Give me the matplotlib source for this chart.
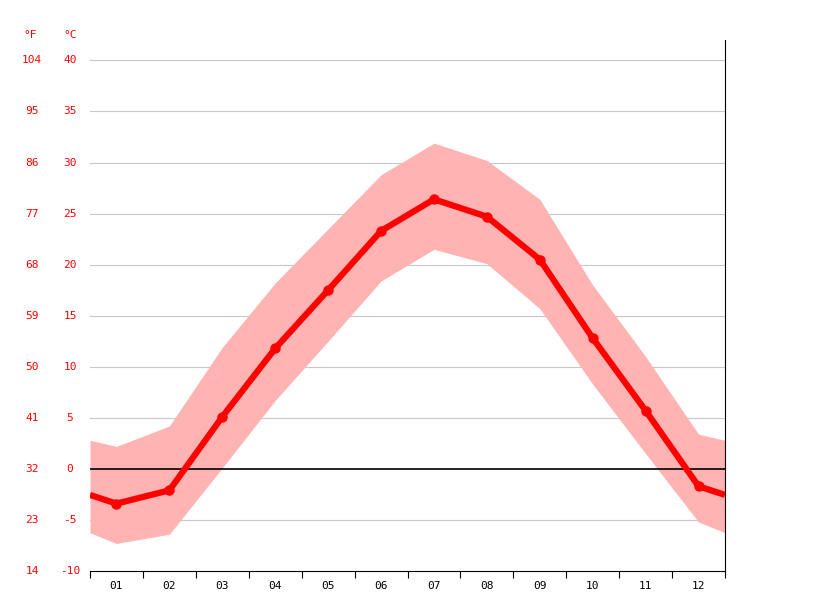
import numpy as np
import matplotlib.pyplot as plt
from matplotlib.transforms import blended_transform_factory

months = ["01", "02", "03", "04", "05", "06", "07", "08", "09", "10", "11", "12"]
t_mean = [-3.4, -2.1, 5.1, 11.8, 17.5, 23.3, 26.4, 24.7, 20.5, 12.8, 5.7, -1.7]
t_max = [2.2, 4.2, 11.9, 18.2, 23.5, 28.8, 31.9, 30.2, 26.4, 18.0, 11.0, 3.4]
t_min = [-7.3, -6.4, 0.1, 6.7, 12.5, 18.4, 21.5, 20.1, 15.7, 8.3, 1.5, -5.2]
c_ticks = [-10, -5, 0, 5, 10, 15, 20, 25, 30, 35, 40]
f_ticks = [14, 23, 32, 41, 50, 59, 68, 77, 86, 95, 104]

font = "DejaVu Sans Mono"
red = "#ff0000"

def wrap(v):
    # extend the series to both edges using the Dec/Jan midpoint
    edge = (v[0] + v[-1]) / 2
    return [edge] + list(v) + [edge]

x = np.arange(12) + 0.5
xw = np.concatenate([[0], x, [12]])

fig = plt.figure(figsize=(8.15, 6.11), dpi=100)
ax = fig.add_axes([90 / 815, 40 / 611, 635 / 815, 531 / 611])

ax.fill_between(xw, wrap(t_min), wrap(t_max), color="#ffb3b3", lw=0, zorder=1)
for c in c_ticks[1:]:
    if c != 0:
        ax.axhline(c, color="#c8c8c8", lw=0.8, zorder=0)
ax.axhline(0, color="black", lw=1.2, zorder=2)
ax.plot(xw, wrap(t_mean), color=red, lw=4.5, zorder=3, solid_capstyle="butt")
ax.plot(x, t_mean, "o", color=red, ms=6.5, zorder=4)

ax.set_xlim(0, 12)
ax.set_ylim(-10, 42)
ax.set_yticks([])
ax.set_xticks(np.arange(13))
ax.set_xticklabels([])
ax.set_xticks(x, minor=True)
ax.set_xticklabels(months, minor=True, fontfamily=font, fontsize=8)
ax.tick_params(axis="x", which="major", length=5, color="black")
ax.tick_params(axis="x", which="minor", length=0, pad=7)
for s in ["top", "left"]:
    ax.spines[s].set_visible(False)
ax.spines["right"].set_color("black")
ax.spines["bottom"].set_color("black")

tr = blended_transform_factory(fig.transFigure, ax.transData)
for c, f in zip(c_ticks, f_ticks):
    ax.text(70 / 815, c, str(c), transform=tr, ha="center", va="center",
            color=red, fontsize=8, fontfamily=font)
    ax.text(32 / 815, c, str(f), transform=tr, ha="center", va="center",
            color=red, fontsize=8, fontfamily=font)
fig.text(30 / 815, 1 - 35 / 611, "°F", ha="center", va="center", color=red, fontsize=8, fontfamily=font)
fig.text(70 / 815, 1 - 35 / 611, "°C", ha="center", va="center", color=red, fontsize=8, fontfamily=font)

fig.savefig("out.png", dpi=100)
